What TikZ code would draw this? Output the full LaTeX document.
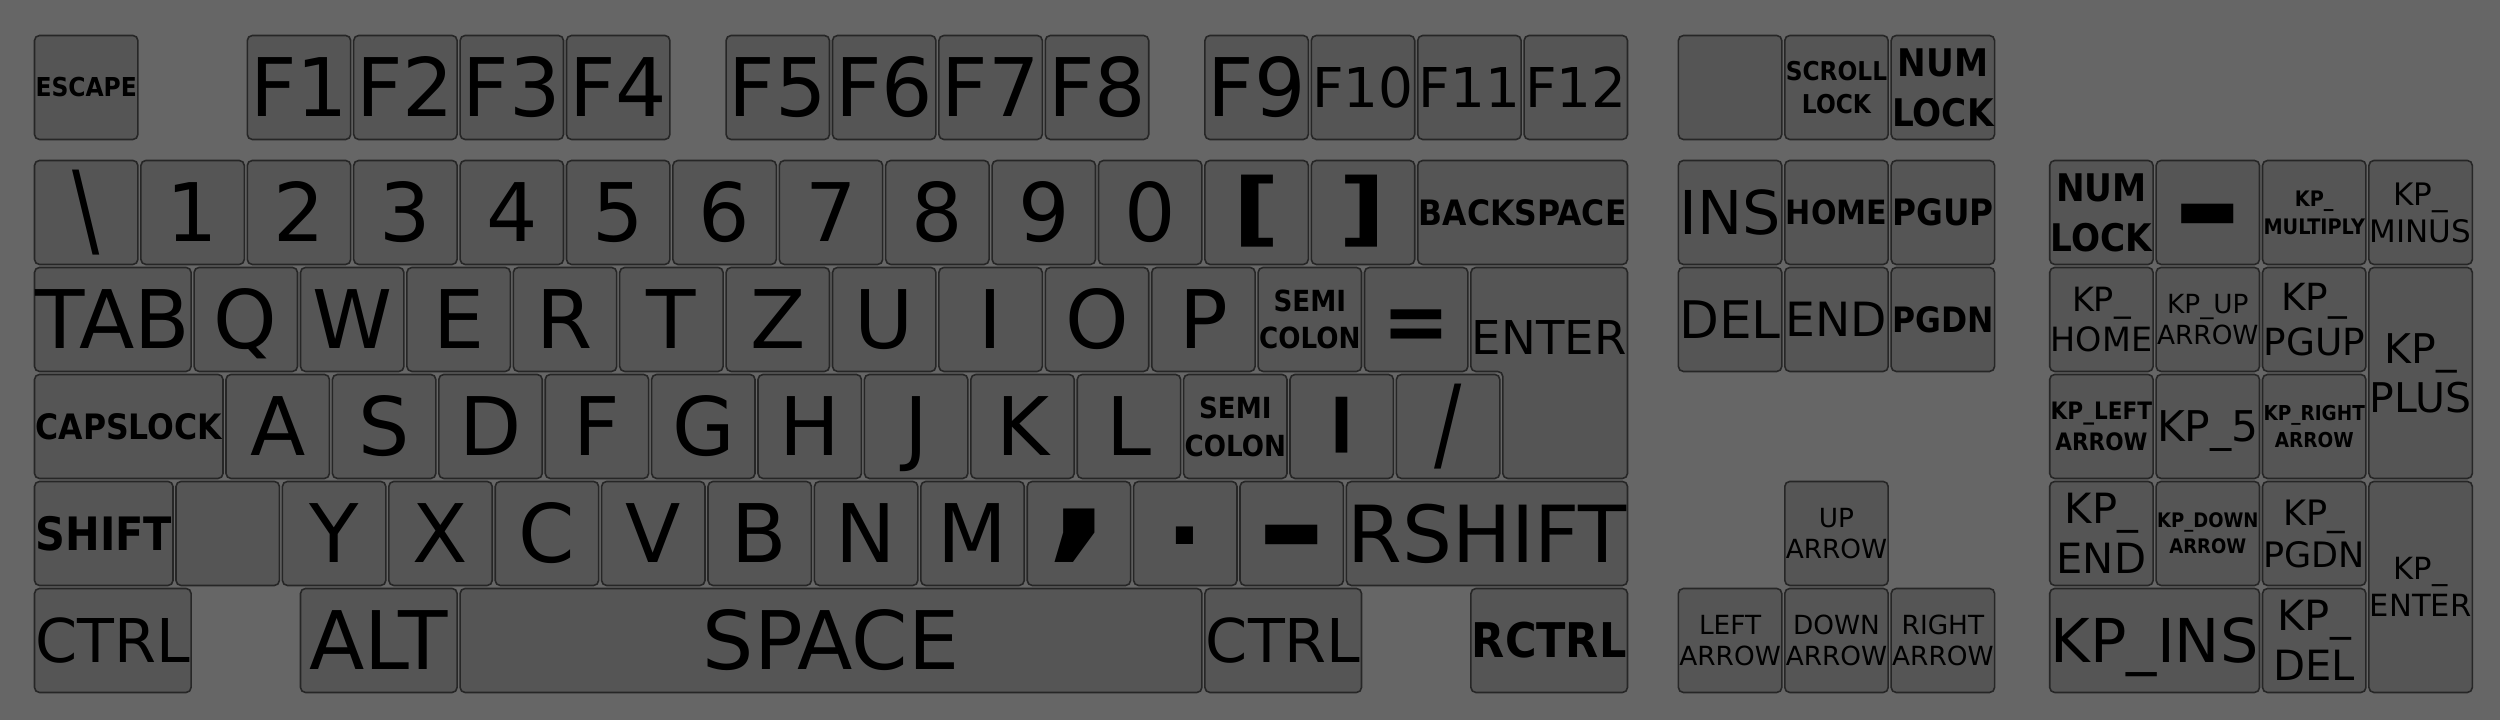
\documentclass[tikz,border=0pt]{standalone}
\usepackage{fontspec}
\usepackage{graphicx}
\usepackage{array}
\setmainfont{DejaVu Sans}
\definecolor{board}{HTML}{666666}
\definecolor{keyface}{HTML}{555555}
\definecolor{keyedge}{HTML}{262626}

\newcommand\keyfont{\fontsize{23}{27.6}\selectfont}
\newcommand\keystrut{\rule[-0.235em]{0pt}{1.2em}}
\newcommand\boldstrut{\rule[-0.285em]{0pt}{1.3em}}
\renewcommand\arraystretch{0}
\newsavebox\labelbox
\newlength\labelwd
\newlength\labelht
\newcommand\fitbox[1]{%
  \sbox\labelbox{#1}%
  \setlength\labelwd{\wd\labelbox}%
  \setlength\labelht{\dimexpr\ht\labelbox+\dp\labelbox\relax}%
  \pgfmathsetmacro\labelscale{min(1,(\kw*1.064cm-0.05cm)/\labelwd,(\kh*1.07cm-0.07cm)/\labelht)}%
  \scalebox{\labelscale}{\usebox\labelbox}}
\newcommand\lab[1]{\fitbox{\begin{tabular}{@{}>{\keystrut}c@{}}#1\end{tabular}}}
\newcommand\blab[1]{\fitbox{\scalebox{0.9}[1]{\bfseries\begin{tabular}{@{}>{\boldstrut}c@{}}#1\end{tabular}}}}
\newcommand\sym[4]{\smash{\raisebox{#3}{\scalebox{#1}[#2]{#4}}}}

\begin{document}
\begin{tikzpicture}[x=1.064cm, y=-1.07cm,
    key/.style={draw=keyedge, fill=keyface, line width=0.45pt, rounded corners=0.5mm, inner sep=0pt,
      minimum width=1.064cm-0.03cm, minimum height=1.07cm-0.03cm, font=\keyfont,
      /utils/exec={\def\kw{1}\def\kh{1}}},
    keytext/.style={inner sep=0pt, font=\keyfont, /utils/exec={\def\kw{1}\def\kh{1}}},
    wide/.style={minimum width=#1*1.064cm-0.03cm, /utils/exec={\def\kw{#1}}},
    tall/.style={minimum height=#1*1.07cm-0.03cm, /utils/exec={\def\kh{#1}}}]
  \fill[board] (-0.33cm,0.34cm) rectangle (24.67cm,-6.86cm);

  % function row
  \node[key] (esc) at (0.5,0.5) {\blab{ESCAPE}};
  \node[key] (f1) at (2.5,0.5) {\lab{F1}};
  \node[key] (f2) at (3.5,0.5) {\lab{F2}};
  \node[key] (f3) at (4.5,0.5) {\lab{F3}};
  \node[key] (f4) at (5.5,0.5) {\lab{F4}};
  \node[key] (f5) at (7,0.5) {\lab{F5}};
  \node[key] (f6) at (8,0.5) {\lab{F6}};
  \node[key] (f7) at (9,0.5) {\lab{F7}};
  \node[key] (f8) at (10,0.5) {\lab{F8}};
  \node[key] (f9) at (11.5,0.5) {\lab{F9}};
  \node[key] (f10) at (12.5,0.5) {\lab{F10}};
  \node[key] (f11) at (13.5,0.5) {\lab{F11}};
  \node[key] (f12) at (14.5,0.5) {\lab{F12}};
  \node[key] (print) at (15.95,0.5) {};
  \node[key] (scroll) at (16.95,0.5) {\blab{SCROLL\\LOCK}};
  \node[key] (numlock) at (17.95,0.5) {\blab{NUM\\LOCK}};

  % number row
  \node[key] (bslash) at (0.5,1.668) {\sym{1}{1.28}{-0.41em}{\textbackslash}};
  \node[key] (k1) at (1.5,1.668) {\lab{1}};
  \node[key] (k2) at (2.5,1.668) {\lab{2}};
  \node[key] (k3) at (3.5,1.668) {\lab{3}};
  \node[key] (k4) at (4.5,1.668) {\lab{4}};
  \node[key] (k5) at (5.5,1.668) {\lab{5}};
  \node[key] (k6) at (6.5,1.668) {\lab{6}};
  \node[key] (k7) at (7.5,1.668) {\lab{7}};
  \node[key] (k8) at (8.5,1.668) {\lab{8}};
  \node[key] (k9) at (9.5,1.668) {\lab{9}};
  \node[key] (k0) at (10.5,1.668) {\lab{0}};
  \node[key] (lbrack) at (11.5,1.668) {\sym{1.3}{1}{-0.30em}{\bfseries [}};
  \node[key] (rbrack) at (12.5,1.668) {\sym{1.3}{1}{-0.30em}{\bfseries ]}};
  \node[key, wide=2] (backspace) at (14,1.668) {\blab{BACKSPACE}};
  \node[key] (ins) at (15.95,1.668) {\lab{INS}};
  \node[key] (home) at (16.95,1.668) {\blab{HOME}};
  \node[key] (pgup) at (17.95,1.668) {\blab{PGUP}};
  \node[key] (kpnum) at (19.44,1.668) {\blab{NUM\\LOCK}};
  \node[key] (kpslash) at (20.44,1.668) {\sym{2.1}{1.7}{-0.51em}{\bfseries -}};
  \node[key] (kpmul) at (21.44,1.668) {\blab{KP\_\\MULTIPLY}};
  \node[key] (kpminus) at (22.44,1.668) {\lab{KP\_\\MINUS}};

  % tab row
  \node[key, wide=1.5] (tab) at (0.75,2.668) {\lab{TAB}};
  \node[key] (q) at (2,2.668) {\lab{Q}};
  \node[key] (w) at (3,2.668) {\lab{W}};
  \node[key] (e) at (4,2.668) {\lab{E}};
  \node[key] (r) at (5,2.668) {\lab{R}};
  \node[key] (t) at (6,2.668) {\lab{T}};
  \node[key] (z) at (7,2.668) {\lab{Z}};
  \node[key] (u) at (8,2.668) {\lab{U}};
  \node[key] (i) at (9,2.668) {\lab{I}};
  \node[key] (o) at (10,2.668) {\lab{O}};
  \node[key] (p) at (11,2.668) {\lab{P}};
  \node[key] (semi) at (12,2.668) {\blab{SEMI\\COLON}};
  \node[key] (equal) at (13,2.668) {\sym{1}{1.07}{-0.40em}{\bfseries =}};
  \draw[draw=keyedge, fill=keyface, line width=0.45pt, rounded corners=0.5mm]
    (13.514,2.182) -- (14.986,2.182) -- (14.986,4.154) -- (13.814,4.154)
    -- (13.814,3.154) -- (13.514,3.154) -- cycle;
  \node[keytext, wide=1.5] (enter) at (14.25,2.84) {\lab{ENTER}};
  \node[key] (del) at (15.95,2.668) {\lab{DEL}};
  \node[key] (end) at (16.95,2.668) {\lab{END}};
  \node[key] (pgdn) at (17.95,2.668) {\blab{PGDN}};
  \node[key] (kphome) at (19.44,2.668) {\lab{KP\_\\HOME}};
  \node[key] (kpup) at (20.44,2.668) {\lab{KP\_UP\\ARROW}};
  \node[key] (kppgup) at (21.44,2.668) {\lab{KP\_\\PGUP}};
  \node[key, tall=2] (kpplus) at (22.44,3.168) {\lab{KP\_\\PLUS}};

  % caps row
  \node[key, wide=1.8] (caps) at (0.9,3.668) {\blab{CAPSLOCK}};
  \node[key] (a) at (2.3,3.668) {\lab{A}};
  \node[key] (s) at (3.3,3.668) {\lab{S}};
  \node[key] (d) at (4.3,3.668) {\lab{D}};
  \node[key] (f) at (5.3,3.668) {\lab{F}};
  \node[key] (g) at (6.3,3.668) {\lab{G}};
  \node[key] (h) at (7.3,3.668) {\lab{H}};
  \node[key] (j) at (8.3,3.668) {\lab{J}};
  \node[key] (k) at (9.3,3.668) {\lab{K}};
  \node[key] (l) at (10.3,3.668) {\lab{L}};
  \node[key] (semib) at (11.3,3.668) {\blab{SEMI\\COLON}};
  \node[key] (quote) at (12.3,3.668) {\sym{1.25}{2.55}{-1.50em}{\bfseries\textquotesingle}};
  \node[key] (slash) at (13.3,3.668) {\sym{1}{1.28}{-0.41em}{/}};
  \node[key] (kpleft) at (19.44,3.668) {\blab{KP\_LEFT\\ARROW}};
  \node[key] (kp5) at (20.44,3.668) {\lab{KP\_5}};
  \node[key] (kpright) at (21.44,3.668) {\blab{KP\_RIGHT\\ARROW}};

  % shift row
  \node[key, wide=1.33] (shift) at (0.665,4.668) {\blab{SHIFT}};
  \node[key] (less) at (1.83,4.668) {};
  \node[key] (y) at (2.83,4.668) {\lab{Y}};
  \node[key] (x) at (3.83,4.668) {\lab{X}};
  \node[key] (c) at (4.83,4.668) {\lab{C}};
  \node[key] (v) at (5.83,4.668) {\lab{V}};
  \node[key] (b) at (6.83,4.668) {\lab{B}};
  \node[key] (n) at (7.83,4.668) {\lab{N}};
  \node[key] (m) at (8.83,4.668) {\lab{M}};
  \node[key] (comma) at (9.83,4.668) {\sym{2.2}{2.0}{-0.08em}{\bfseries ,}};
  \node[key] (period) at (10.83,4.668) {\sym{1.2}{1.15}{-0.14em}{\bfseries .}};
  \node[key] (minus) at (11.83,4.668) {\sym{2.1}{1.7}{-0.51em}{\bfseries -}};
  \node[key, wide=2.67] (rshift) at (13.665,4.668) {\lab{RSHIFT}};
  \node[key] (up) at (16.95,4.668) {\lab{UP\\ARROW}};
  \node[key] (kpend) at (19.44,4.668) {\lab{KP\_\\END}};
  \node[key] (kpdown) at (20.44,4.668) {\blab{KP\_DOWN\\ARROW}};
  \node[key] (kppgdn) at (21.44,4.668) {\lab{KP\_\\PGDN}};
  \node[key, tall=2] (kpenter) at (22.44,5.168) {\lab{KP\_\\ENTER}};

  % bottom row
  \node[key, wide=1.5] (ctrl) at (0.75,5.668) {\lab{CTRL}};
  \node[key, wide=1.5] (alt) at (3.25,5.668) {\lab{ALT}};
  \node[key, wide=7] (space) at (7.5,5.668) {\lab{SPACE}};
  \node[key, wide=1.5] (ctrlb) at (11.75,5.668) {\lab{CTRL}};
  \node[key, wide=1.5] (rctrl) at (14.25,5.668) {\blab{RCTRL}};
  \node[key] (left) at (15.95,5.668) {\lab{LEFT\\ARROW}};
  \node[key] (down) at (16.95,5.668) {\lab{DOWN\\ARROW}};
  \node[key] (right) at (17.95,5.668) {\lab{RIGHT\\ARROW}};
  \node[key, wide=2] (kpins) at (19.94,5.668) {\lab{KP\_INS}};
  \node[key] (kpdel) at (21.44,5.668) {\lab{KP\_\\DEL}};
\end{tikzpicture}
\end{document}
